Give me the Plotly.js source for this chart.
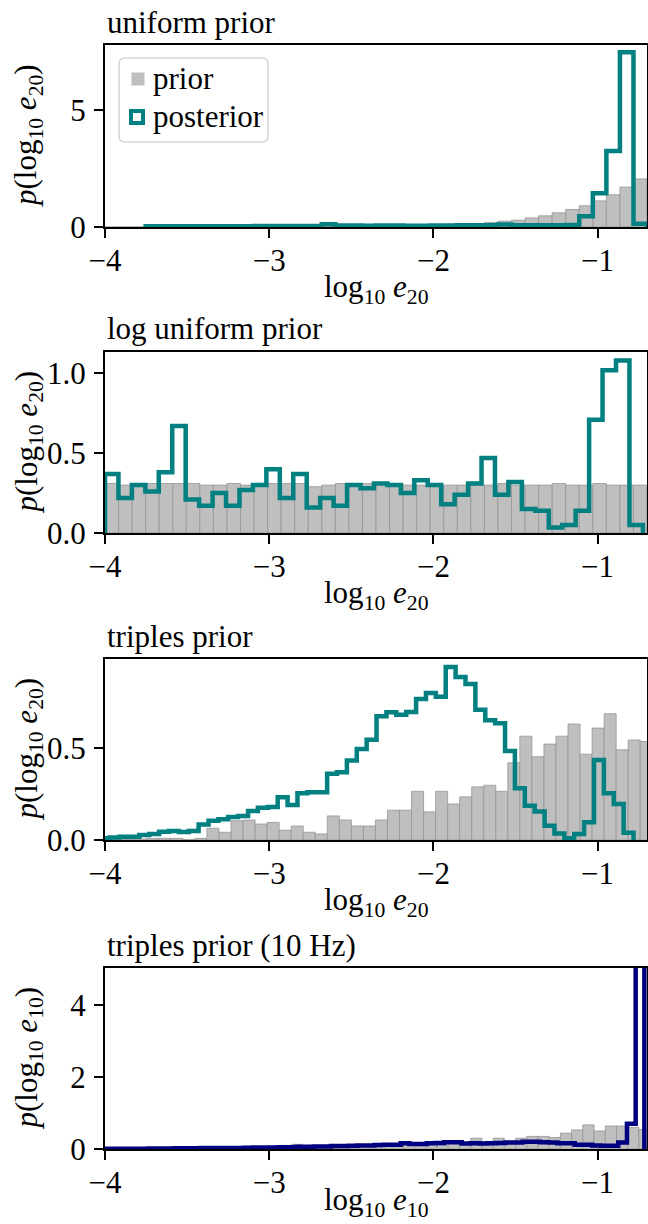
<!DOCTYPE html>
<html><head><meta charset="utf-8">
<script src="https://cdn.plot.ly/plotly-3.0.1.min.js"></script>
<style>body{margin:0;padding:0;background:#fff}</style>
</head><body>
<div id="chart" style="width:648px;height:1224px"></div>
<script>
// ---------- data ----------
const xMin = -4.0, xMax = -0.699;
const xTicks = [-4, -3, -2, -1];

// panel 1: uniform prior (e20)
const uniPriorStart = -4.0, uniPriorWidth = 0.08253;
const uniPrior = [0.001,0.001,0.002,0.002,0.002,0.003,0.003,0.004,0.005,0.006,
  0.007,0.008,0.01,0.011,0.013,0.015,0.018,0.021,0.024,0.028,
  0.03,0.035,0.045,0.055,0.07,0.085,0.10,0.14,0.19,0.25,
  0.29,0.39,0.48,0.61,0.75,0.91,1.12,1.38,1.71,2.06];
const uniPostStart = -4.0, uniPostWidth = 0.08253;
const uniPost = [null,null,null,0.03,0.03,0.03,0.03,0.03,0.03,0.03,
  0.03,0.04,0.04,0.04,0.04,0.04,0.12,0.06,0.06,0.05,
  0.06,0.06,0.05,0.05,0.06,0.06,0.07,0.07,0.07,0.11,
  0.08,0.07,0.07,0.07,0.09,0.46,1.45,3.26,7.49,0.14];

// panel 2: log uniform prior (e20)
const logPriorStart = -4.0, logPriorWidth = 0.08253;
const logPrior = [0.31,0.30,0.31,0.31,0.31,0.31,0.31,0.30,0.30,0.31,
  0.30,0.30,0.31,0.31,0.31,0.29,0.30,0.31,0.31,0.31,
  0.31,0.31,0.30,0.30,0.30,0.30,0.30,0.30,0.30,0.31,
  0.30,0.30,0.30,0.31,0.30,0.30,0.31,0.30,0.30,0.30];
const logPostStart = -4.0, logPostWidth = 0.0819;
const logPost = [0.37,0.22,0.30,0.26,0.38,0.67,0.21,0.17,0.25,0.17,
  0.27,0.30,0.40,0.22,0.37,0.16,0.22,0.17,0.30,0.28,
  0.31,0.30,0.25,0.33,0.30,0.18,0.24,0.31,0.47,0.24,
  0.32,0.15,0.14,0.035,0.05,0.14,0.71,1.02,1.08,0.05];

// panel 3: triples prior (e20)
const triPriorStart = -3.9655, triPriorWidth = 0.0733;
const triPrior = [0,0.003,0.005,0.009,0.009,0.009,0.003,0.009,0.064,0.042,
  0.105,0.109,0.087,0.096,0.053,0.076,0.042,0.033,0.131,0.109,
  0.076,0.076,0.109,0.162,0.162,0.265,0.153,0.265,0.196,0.235,
  0.289,0.298,0.265,0.42,0.565,0.453,0.522,0.565,0.631,0.467,
  0.609,0.687,0.491,0.544,0.536];
const triPostStart = -4.0318, triPostWidth = 0.0602;
const triPost = [0.01,0.013,0.018,0.018,0.027,0.033,0.045,0.049,0.044,0.049,
  0.085,0.105,0.113,0.125,0.131,0.158,0.175,0.18,0.233,0.191,
  0.255,0.26,0.26,0.36,0.369,0.433,0.495,0.545,0.673,0.695,
  0.682,0.696,0.767,0.80,0.78,0.942,0.887,0.849,0.709,0.651,
  0.636,0.485,0.282,0.187,0.155,0.078,0.036,0.01,0.033,0.096,
  0.436,0.255,0.196,0.04];

// panel 4: triples prior (10 Hz), e10
const tenPriorStart = -4.0267, tenPriorWidth = 0.0683;
const tenPrior = [0,0,0,0.005,0.005,0.01,0.01,0.01,0.02,0.02,
  0.04,0.03,0.03,0.05,0.04,0.05,0.10,0.13,0.07,0.06,
  0.05,0.08,0.06,0.07,0.10,0.08,0.12,0.10,0.14,0.12,
  0.10,0.19,0.18,0.30,0.20,0.30,0.22,0.30,0.35,0.35,
  0.32,0.44,0.53,0.67,0.50,0.64,0.64,0.60,0.54];
const tenPostStart = -4.001, tenPostWidth = 0.053;
const tenPost = [0.01,0.01,0.01,0.01,0.01,0.015,0.015,0.015,
  0.02,0.02,0.02,0.025,0.025,0.03,0.03,0.03,0.035,0.04,0.04,0.045,
  0.05,0.05,0.06,0.06,0.07,0.07,0.08,0.08,0.09,0.10,0.10,0.11,
  0.12,0.12,0.16,0.14,0.14,0.16,0.17,0.19,0.19,0.15,0.16,0.15,
  0.16,0.17,0.18,0.18,0.20,0.20,0.19,0.18,0.16,0.16,0.12,0.12,
  0.10,0.09,0.09,0.18,0.70,9.0];

const panelTitles = ['uniform prior', 'log uniform prior', 'triples prior', 'triples prior (10 Hz)'];
const yTitles = ['<i>p</i>(log<sub>10</sub> <i>e</i><sub>20</sub>)', '<i>p</i>(log<sub>10</sub> <i>e</i><sub>20</sub>)',
                 '<i>p</i>(log<sub>10</sub> <i>e</i><sub>20</sub>)', '<i>p</i>(log<sub>10</sub> <i>e</i><sub>10</sub>)'];
const xTitles = ['log<sub>10</sub> <i>e</i><sub>20</sub>', 'log<sub>10</sub> <i>e</i><sub>20</sub>',
                 'log<sub>10</sub> <i>e</i><sub>20</sub>', 'log<sub>10</sub> <i>e</i><sub>10</sub>'];
const legendLabels = ['prior', 'posterior'];
const yRanges = [[0, 7.8], [0, 1.134], [0, 0.985], [0, 5.03]];
const yTickVals = [[0, 5], [0, 0.5, 1.0], [0, 0.5], [0, 2, 4]];
const yTickText = [['0', '5'], ['0.0', '0.5', '1.0'], ['0.0', '0.5'], ['0', '2', '4']];

// ---------- helpers ----------
function centers(start, width, vals) { return vals.map((v, i) => start + (i + 0.5) * width); }
function stepPath(start, width, vals) {
  const first = vals.findIndex(v => v !== null);
  const xs = [start + first * width], ys = [0];
  for (let i = first; i < vals.length; i++) { xs.push(start + i * width); ys.push(vals[i]); }
  const eN = start + vals.length * width;
  xs.push(eN); ys.push(vals[vals.length - 1]);
  xs.push(eN); ys.push(0);
  return {x: xs, y: ys};
}

const FONT = 'Liberation Serif, Times New Roman, serif';
const FS = 31;
const TEAL = '#008080', NAVY = '#000080';
const GREY = '#bfbfbf', GREYEDGE = '#959595';
const W = 648, H = 1224, L = 105, R = 1;
const PW = W - L - R;
const px2x = px => (px - L) / PW;
const px2y = py => 1 - py / H;

const panels = [
  {ps: uniPriorStart, pw: uniPriorWidth, pv: uniPrior, qs: uniPostStart, qw: uniPostWidth, qv: uniPost, col: TEAL},
  {ps: logPriorStart, pw: logPriorWidth, pv: logPrior, qs: logPostStart, qw: logPostWidth, qv: logPost, col: TEAL},
  {ps: triPriorStart, pw: triPriorWidth, pv: triPrior, qs: triPostStart, qw: triPostWidth, qv: triPost, col: TEAL},
  {ps: tenPriorStart, pw: tenPriorWidth, pv: tenPrior, qs: tenPostStart, qw: tenPostWidth, qv: tenPost, col: NAVY},
];

const boxes = [[45, 227], [352, 533], [659, 840], [968, 1149]];

const traces = [];
const layout = {
  width: W, height: H,
  margin: {l: L, r: R, t: 0, b: 0},
  paper_bgcolor: '#fff', plot_bgcolor: '#fff',
  showlegend: false,
  annotations: [], shapes: [],
  font: {family: FONT, size: FS, color: '#000'},
  bargap: 0
};

panels.forEach((p, i) => {
  const n = i === 0 ? '' : String(i + 1);
  const xa = 'x' + n, ya = 'y' + n;
  traces.push({type: 'bar', x: centers(p.ps, p.pw, p.pv), y: p.pv, width: p.pw,
    marker: {color: GREY, line: {color: GREYEDGE, width: 0.8}},
    xaxis: xa, yaxis: ya, name: 'prior', hoverinfo: 'skip'});
  const st = stepPath(p.qs, p.qw, p.qv);
  traces.push({type: 'scatter', mode: 'lines', x: st.x, y: st.y, line: {shape: 'hv', color: p.col, width: 4.5},
    xaxis: xa, yaxis: ya, name: 'posterior', hoverinfo: 'skip'});
  const [top, bot] = boxes[i];
  layout['xaxis' + n] = {domain: [0, 1], anchor: ya, range: [xMin, xMax], tickvals: xTicks,
    ticks: 'outside', ticklen: 9, tickwidth: 2, tickcolor: '#000', ticklabelstandoff: -4,
    showline: true, linewidth: 2, linecolor: '#000', mirror: true,
    showgrid: false, zeroline: false, tickfont: {family: FONT, size: FS, color: '#000'}};
  layout['yaxis' + n] = {domain: [px2y(bot), px2y(top)], anchor: xa, range: yRanges[i],
    tickvals: yTickVals[i], ticktext: yTickText[i],
    ticks: 'outside', ticklen: 9, tickwidth: 2, tickcolor: '#000', ticklabelstandoff: 2,
    showline: true, linewidth: 2, linecolor: '#000', mirror: true,
    showgrid: false, zeroline: false, tickfont: {family: FONT, size: FS, color: '#000'}};
  layout.annotations.push({text: panelTitles[i], xref: 'paper', yref: 'paper', x: 0, xanchor: 'left',
    y: px2y(top - 23), yanchor: 'middle', showarrow: false, font: {family: FONT, size: FS, color: '#000'}});
  layout.annotations.push({text: yTitles[i], xref: 'paper', yref: 'paper', x: px2x(28), xanchor: 'center',
    y: px2y((top + bot) / 2), yanchor: 'middle', textangle: -90, showarrow: false,
    font: {family: FONT, size: FS, color: '#000'}});
  if (i < 3) {
    layout.annotations.push({text: xTitles[i], xref: 'paper', yref: 'paper', x: 0.5, xanchor: 'center',
      y: px2y(bot + 62), yanchor: 'middle', showarrow: false, font: {family: FONT, size: FS, color: '#000'}});
  } else {
    layout.annotations.push({text: xTitles[i], xref: 'paper', yref: 'paper', x: 0.5, xanchor: 'center',
      y: px2y(1224), yanchor: 'bottom', showarrow: false, font: {family: FONT, size: FS, color: '#000'}});
  }
});

// ---------- hand-drawn legend (panel 1) ----------
function roundRect(x0, y0, x1, y1, r) {
  const X = px2x, Y = px2y;
  return `M${X(x0 + r)},${Y(y0)} L${X(x1 - r)},${Y(y0)} Q${X(x1)},${Y(y0)} ${X(x1)},${Y(y0 + r)} ` +
         `L${X(x1)},${Y(y1 - r)} Q${X(x1)},${Y(y1)} ${X(x1 - r)},${Y(y1)} L${X(x0 + r)},${Y(y1)} ` +
         `Q${X(x0)},${Y(y1)} ${X(x0)},${Y(y1 - r)} L${X(x0)},${Y(y0 + r)} Q${X(x0)},${Y(y0)} ${X(x0 + r)},${Y(y0)} Z`;
}
layout.shapes.push({type: 'path', xref: 'paper', yref: 'paper', path: roundRect(119, 58, 268, 142, 6),
  fillcolor: 'rgba(255,255,255,0.85)', line: {color: '#d4d4d4', width: 1.5}, layer: 'above'});
layout.shapes.push({type: 'rect', xref: 'paper', yref: 'paper', x0: px2x(131.5), x1: px2x(144.5),
  y0: px2y(85.5), y1: px2y(72.5), fillcolor: GREY, line: {width: 0}, layer: 'above'});
layout.shapes.push({type: 'rect', xref: 'paper', yref: 'paper', x0: px2x(131), x1: px2x(143),
  y0: px2y(123), y1: px2y(111), fillcolor: '#fff', line: {color: TEAL, width: 4}, layer: 'above'});
[79, 117].forEach((cy, k) => {
  layout.annotations.push({text: legendLabels[k], xref: 'paper', yref: 'paper', x: px2x(151), xanchor: 'left',
    y: px2y(cy), yanchor: 'middle', showarrow: false, font: {family: FONT, size: FS, color: '#000'}});
});

Plotly.newPlot('chart', traces, layout, {displayModeBar: false, staticPlot: true});
</script>
</body></html>
